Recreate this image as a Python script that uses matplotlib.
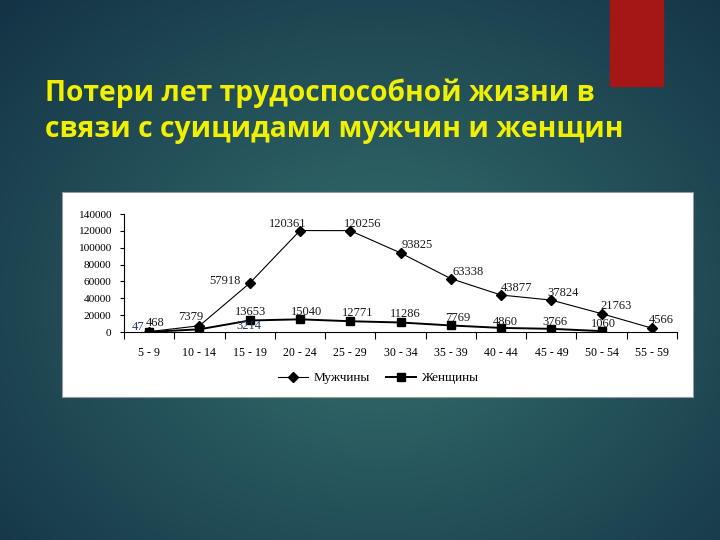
import numpy as np
import matplotlib
matplotlib.use("Agg")
import matplotlib.pyplot as plt
from matplotlib.patches import Rectangle

categories = ["5 - 9", "10 - 14", "15 - 19", "20 - 24", "25 - 29", "30 - 34",
              "35 - 39", "40 - 44", "45 - 49", "50 - 54", "55 - 59"]
men = [468, 7379, 57918, 120361, 120256, 93825, 63338, 43877, 37824, 21763, 4566]
women = [47, 3214, 13653, 15040, 12771, 11286, 7769, 4860, 3766, 1060]
yticks = [0, 20000, 40000, 60000, 80000, 100000, 120000, 140000]
title_lines = ["Потери лет трудоспособной жизни в", "связи с суицидами мужчин и женщин"]
legend_labels = ["Мужчины", "Женщины"]

# label offsets (pixels) relative to the points
men_off = [(6, 9), (-9, 9), (-25, 2), (-12, 7), (12, 7), (17, 8), (17, 7),
           (15, 7), (12, 7), (15, 8), (9, 8)]
women_off = [(-11, 5), (49, 3), (1, 8), (7, 7), (7, 8), (5, 8), (7, 7),
             (4, 6), (4, 7), (2, 7)]

W, H = 720, 540
fig = plt.figure(figsize=(7.2, 5.4), dpi=100)

# background gradient
bg = fig.add_axes([0, 0, 1, 1])
yy, xx = np.mgrid[0:H, 0:W]
d = np.sqrt(((xx - 380) / 520.0) ** 2 + ((yy - 300) / 420.0) ** 2)
d = np.clip(d, 0, 1)
c_in = np.array([0x35, 0x70, 0x6e]) / 255.0
c_out = np.array([0x14, 0x34, 0x46]) / 255.0
img = c_in[None, None, :] * (1 - d[..., None]) + c_out[None, None, :] * d[..., None]
bg.imshow(img, extent=[0, W, H, 0], aspect="auto")
bg.set_xlim(0, W)
bg.set_ylim(H, 0)
bg.axis("off")
bg.add_patch(Rectangle((610, 0), 53, 86, color="#a51616"))
bg.add_patch(Rectangle((62, 192), 631, 205, facecolor="white", edgecolor="#9a9a9a", lw=0.8))
for k, line in enumerate(title_lines):
    bg.text(45, 101 + 36 * k, line, color="#f0f000", fontsize=20.3, fontweight="bold",
            family="Open Sans", va="baseline", ha="left")

# chart axes
x0, x1 = 124, 677
ytop, ybot = 214, 332
ax = fig.add_axes([x0 / W, 1 - ybot / H, (x1 - x0) / W, (ybot - ytop) / H])
ax.patch.set_alpha(0)
xm = np.arange(len(men))
xw = np.arange(len(women))
ax.plot(xm, men, color="black", lw=0.8, marker="D", ms=5, label=legend_labels[0])
ax.plot(xw, women, color="black", lw=1.4, marker="s", ms=6, label=legend_labels[1])
ax.set_xlim(-0.5, len(categories) - 0.5)
ax.set_ylim(0, 140000)
ax.set_yticks(yticks)
ax.set_yticklabels([str(v) for v in yticks])
ax.set_xticks(xm)
ax.set_xticklabels(categories)
ax.set_xticks(np.arange(len(categories) + 1) - 0.5, minor=True)
ax.tick_params(axis="x", which="major", length=0, pad=11)
ax.tick_params(axis="x", which="minor", length=5, width=0.8, direction="out")
ax.tick_params(axis="y", length=3, width=0.8, pad=6)
for lab in ax.get_xticklabels():
    lab.set_family("Liberation Serif")
    lab.set_fontsize(8.6)
for lab in ax.get_yticklabels():
    lab.set_family("Liberation Serif")
    lab.set_fontsize(8.2)
for s in ["top", "right"]:
    ax.spines[s].set_visible(False)
for s in ["left", "bottom"]:
    ax.spines[s].set_linewidth(0.8)

for i, v in enumerate(men):
    ax.annotate(str(v), (xm[i], v), xytext=men_off[i], textcoords="offset pixels",
                ha="center", va="center", fontsize=9, family="Liberation Serif",
                color="#1a1a1a")
for i, v in enumerate(women):
    col = "#1f3a6a" if i < 2 else "#1a1a1a"
    ax.annotate(str(v), (xw[i], v), xytext=women_off[i], textcoords="offset pixels",
                ha="center", va="center", fontsize=9, family="Liberation Serif",
                color=col)

leg = fig.legend(loc="center", bbox_to_anchor=(378 / W, 1 - 378 / H), ncol=2,
                 frameon=False, prop={"family": "Liberation Serif", "size": 9.5},
                 handlelength=2.3, columnspacing=1.2, handletextpad=0.4)

fig.savefig("out.png", dpi=100)
